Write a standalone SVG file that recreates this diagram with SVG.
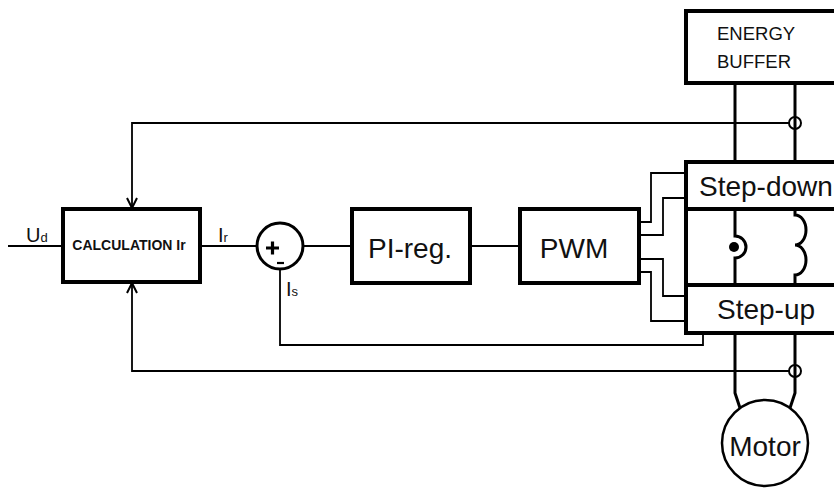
<svg xmlns="http://www.w3.org/2000/svg" width="834" height="491" viewBox="0 0 834 491">
<style>
.box{fill:#fff;stroke:#000;stroke-width:4}
.thin{fill:none;stroke:#000;stroke-width:1.8}
.pwr{fill:none;stroke:#000;stroke-width:3}
.lbl{font-family:"Liberation Sans",Arial,sans-serif;fill:#111}
.big{font-family:"Liberation Sans",Arial,sans-serif;font-size:28px;fill:#111}
</style>
<defs>
<marker id="arr" viewBox="0 0 12 12" refX="11" refY="6" markerWidth="12" markerHeight="12" markerUnits="userSpaceOnUse" orient="auto">
<path d="M1,1 L11,6 L1,11" fill="none" stroke="#000" stroke-width="2"/>
</marker>
</defs>
<rect width="834" height="491" fill="#fff"/>
<g id="connectors">
<path class="thin" d="M8,246 H63"/>
<path class="thin" d="M200,246 H257"/>
<path class="thin" d="M303,246 H352"/>
<path class="thin" d="M470,246 H520"/>
<path class="thin" d="M789,123 H132 V208" marker-end="url(#arr)"/>
<path class="thin" d="M789,371 H132 V283" marker-end="url(#arr)"/>
<path class="thin" d="M729,247 H703 V345 H280 V270"/>
<path class="thin" d="M640,222 H651 V173 H686"/>
<path class="thin" d="M640,235 H663 V198 H686"/>
<path class="thin" d="M640,259 H663 V296 H686"/>
<path class="thin" d="M640,272 H651 V321 H686"/>
<path class="pwr" d="M735,83 V162"/>
<path class="pwr" d="M795,83 V162"/>
<path class="pwr" d="M735,333 V393 L740,408"/>
<path class="pwr" d="M795,333 V393 L790,408"/>
<circle cx="795" cy="123" r="6" fill="none" stroke="#000" stroke-width="2"/>
<circle cx="795" cy="371" r="6" fill="none" stroke="#000" stroke-width="2"/>
</g>
<g id="calc">
<rect class="box" x="63" y="209" width="137" height="73"/>
<text class="lbl" x="129" y="250" font-size="14" font-weight="bold" text-anchor="middle">CALCULATION Ir</text>
</g>
<g id="labels">
<text class="lbl" x="26" y="242" font-size="20">U<tspan font-size="13">d</tspan></text>
<text class="lbl" x="218" y="242" font-size="20">I<tspan font-size="13">r</tspan></text>
<text class="lbl" x="286" y="296" font-size="20">I<tspan font-size="13">s</tspan></text>
</g>
<g id="sum">
<circle cx="280" cy="246" r="23" fill="#fff" stroke="#000" stroke-width="3"/>
<path d="M266,248 H279 M272.5,241.5 V254.5" stroke="#000" stroke-width="3.2"/>
<path d="M277,263 H284" stroke="#000" stroke-width="2.2"/>
</g>
<g id="pireg">
<rect class="box" x="352" y="209" width="118" height="74"/>
<text class="big" x="410" y="258" text-anchor="middle">PI-reg.</text>
</g>
<g id="pwm">
<rect class="box" x="520" y="209" width="119" height="74"/>
<text class="big" x="574" y="258" text-anchor="middle">PWM</text>
</g>
<g id="energybuffer">
<rect class="box" x="686" y="11" width="200" height="72"/>
<text class="lbl" x="717" y="40" font-size="18.5">ENERGY</text>
<text class="lbl" x="717" y="68" font-size="18.5">BUFFER</text>
</g>
<g id="converter">
<rect class="box" x="686" y="162" width="200" height="171"/>
<path d="M686,209 H834 M686,285 H834" stroke="#000" stroke-width="4"/>
<text class="big" x="699" y="196">Step-down</text>
<text class="big" x="717" y="319">Step-up</text>
<path class="pwr" d="M735,209 V236 A11,11 0 0 1 735,258 V285"/>
<circle cx="734" cy="247" r="5" fill="#000"/>
<path class="pwr" d="M795,209 V215 A11,15 0 0 1 795,245 A11,15 0 0 1 795,275 V285"/>
</g>
<g id="motor">
<circle cx="765" cy="443" r="43" fill="#fff" stroke="#000" stroke-width="2.5"/>
<text class="big" x="765" y="456" text-anchor="middle">Motor</text>
</g>
</svg>
